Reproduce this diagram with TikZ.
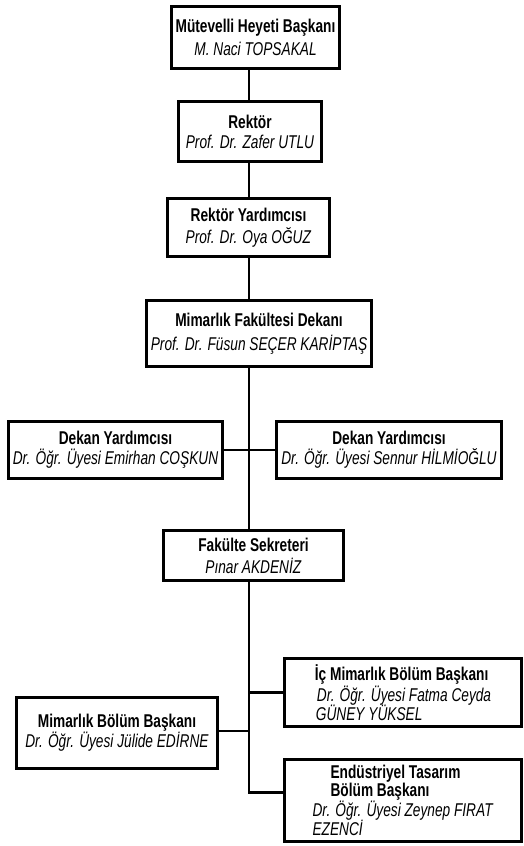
\documentclass[tikz,border=0pt]{standalone}
\usepackage{fontspec}
\setmainfont{Liberation Sans}[FakeStretch=0.74]

\begin{document}
\begin{tikzpicture}[
    x=1pt, y=-1pt,
    font=\fontsize{18.5}{19}\selectfont,
    unitbox/.style={
        rectangle,
        draw=black,
        line width=3pt,
        fill=white,
        inner sep=4pt,
        align=center
    },
    sidebox/.style={
        unitbox,
        align=left
    },
    link/.style={
        line width=2.6pt,
        draw=black
    }
]
\useasboundingbox (0,0) rectangle (524,846);

% -------------------- Top of the chain -----------------------
\node[unitbox, minimum width=168pt, minimum height=62pt] (trustee) at (255.5,37.5) {
  \textbf{Mütevelli Heyeti Başkanı}\\[4pt]
  \textit{M. Naci TOPSAKAL}
};

\node[unitbox, minimum width=143pt, minimum height=60pt] (rector) at (250,131.5) {
  \textbf{Rektör}\\[1pt]
  \textit{Prof. Dr. Zafer UTLU}
};

\node[unitbox, minimum width=162pt, minimum height=58pt] (vicerector) at (248.5,227.5) {
  \textbf{Rektör Yardımcısı}\\[3pt]
  \textit{Prof. Dr. Oya OĞUZ}
};

\node[unitbox, minimum width=223pt, minimum height=66pt] (dean) at (259,333.5) {
  \textbf{Mimarlık Fakültesi Dekanı}\\[5pt]
  \textit{Prof. Dr. Füsun SEÇER KARİPTAŞ}
};

% -------------------- Vice deans -----------------------------
\node[unitbox, minimum width=212pt, minimum height=57pt] (dyLeft) at (115.5,450) {
  \textbf{Dekan Yardımcısı}\\[1pt]
  \textit{Dr. Öğr. Üyesi Emirhan COŞKUN}
};

\node[unitbox, minimum width=225pt, minimum height=57pt] (dyRight) at (389,450) {
  \textbf{Dekan Yardımcısı}\\[1pt]
  \textit{Dr. Öğr. Üyesi Sennur HİLMİOĞLU}
};

\node[unitbox, minimum width=180pt, minimum height=50pt] (secretary) at (253.5,555.5) {
  \textbf{Fakülte Sekreteri}\\[3pt]
  \textit{Pınar AKDENİZ}
};

% -------------------- Departments ----------------------------
\node[unitbox, minimum width=201pt, minimum height=71pt] (archhead) at (117,733) {
  \textbf{Mimarlık Bölüm Başkanı}\\[0pt]
  \textit{Dr. Öğr. Üyesi Jülide EDİRNE}
};

\node[sidebox, minimum width=237pt, minimum height=68pt] (interior) at (403,692.5) {
  \textbf{İç Mimarlık Bölüm Başkanı}\\[1pt]
  \hspace*{2pt}\textit{Dr. Öğr. Üyesi Fatma Ceyda}\\[-1pt]
  \hspace*{1pt}\textit{GÜNEY YÜKSEL}
};

\node[sidebox, minimum width=237pt, minimum height=82pt] (endustri) at (403,800.5) {
  \hspace*{18pt}\textbf{Endüstriyel Tasarım}\\[-1pt]
  \hspace*{18pt}\textbf{Bölüm Başkanı}\\[-1pt]
  \textit{Dr. Öğr. Üyesi Zeynep FIRAT}\\[-1pt]
  \textit{EZENCİ}
};

% -------------------- Links ----------------------------------
\coordinate (spine) at (249,0);
\draw[link] (trustee.south -| spine) -- (rector.north -| spine);
\draw[link] (rector.south -| spine) -- (vicerector.north -| spine);
\draw[link] (vicerector.south -| spine) -- (dean.north -| spine);
\draw[link] (dean.south -| spine) -- (secretary.north -| spine);
\draw[link] (dyLeft.east) -- (dyRight.west);
\draw[link] (secretary.south -| spine) |- ([yshift=8pt]endustri.west);
\draw[link] (spine |- interior.west) -- (interior.west);
\draw[link] ([yshift=2pt]archhead.east) -- ([yshift=2pt]archhead.east -| spine);

\end{tikzpicture}
\end{document}
